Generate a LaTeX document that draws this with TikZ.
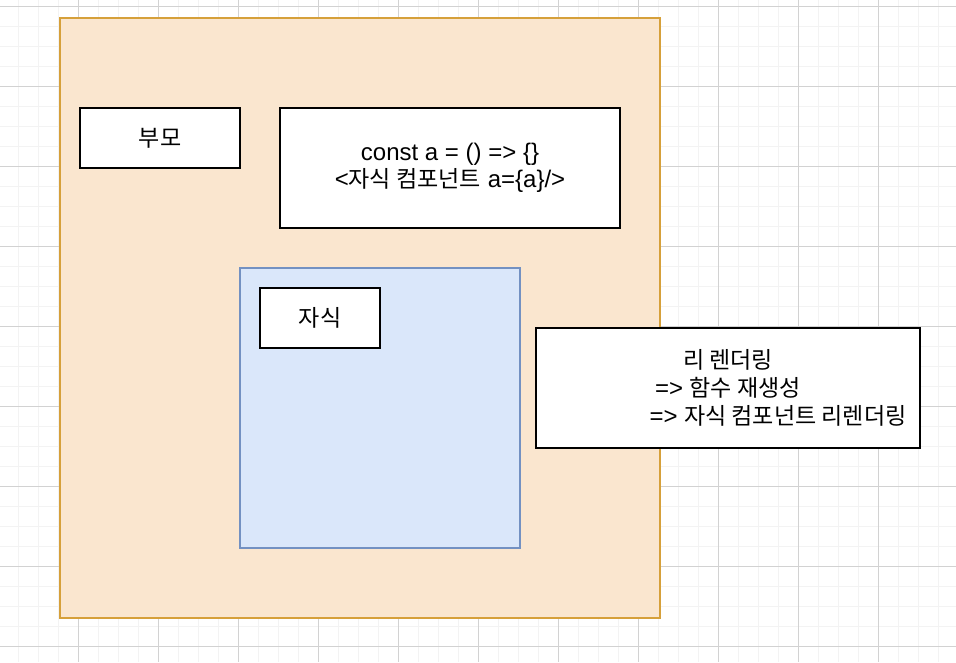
\documentclass[tikz,border=0pt]{standalone}
\usepackage{fontspec}
\setmainfont{Liberation Sans}
\newfontfamily\korfont[Scale=0.96]{Noto Sans CJK KR}
\newcommand\kor[1]{{\korfont #1}}
\definecolor{gridminor}{HTML}{F3F3F3}
\definecolor{gridmajor}{HTML}{D2D2D2}
\definecolor{orfill}{HTML}{FAE6CF}
\definecolor{ordraw}{HTML}{D6A03A}
\definecolor{blfill}{HTML}{DAE7FA}
\definecolor{bldraw}{HTML}{7391C2}
\tikzset{
  gminor/.style={draw=gridminor, line width=1pt},
  gmajor/.style={draw=gridmajor, line width=1pt},
  boxbase/.style={rectangle, anchor=north west, inner sep=0pt, line width=2pt,
    font=\fontsize{24}{28}\selectfont, align=center},
  whitebox/.style={boxbase, draw=black, fill=white},
  orangebox/.style={boxbase, draw=ordraw, fill=orfill},
  bluebox/.style={boxbase, draw=bldraw, fill=blfill},
}
\begin{document}
\begin{tikzpicture}[x=1pt,y=-1pt]
\useasboundingbox (0,0) rectangle (956,662);
\fill[white] (0,0) rectangle (956,662);
% grid
\foreach \x in {18,38,...,950} \draw[gminor] (\x,0) -- (\x,662);
\foreach \y in {6,26,...,660} \draw[gminor] (0,\y) -- (956,\y);
\foreach \x in {78,158,...,950} \draw[gmajor] (\x,0) -- (\x,662);
\foreach \y in {6,86,...,660} \draw[gmajor] (0,\y) -- (956,\y);
% boxes
\node[orangebox, minimum width=600pt, minimum height=600pt] (outer) at (59,17) {};
\node[whitebox, minimum width=160pt, minimum height=60pt] (parent) at (79,107) {\kor{부모}};
\node[whitebox, minimum width=340pt, minimum height=120pt] (code) at (279,107)
  {const a = () => \{\}\\[-0.5pt]<\kor{자식 컴포넌트} a=\{a\}/>};
\node[bluebox, minimum width=280pt, minimum height=280pt] (childarea) at (239,267) {};
\node[whitebox, minimum width=120pt, minimum height=60pt] (child) at (259,287) {\kor{자식}};
\node[whitebox, minimum width=384pt, minimum height=120pt] (rerender) at (535,327)
  {\kor{리 렌더링}\\=> \kor{함수 재생성}\\\hspace*{100pt}=> \kor{자식 컴포넌트 리렌더링}};
\end{tikzpicture}
\end{document}
